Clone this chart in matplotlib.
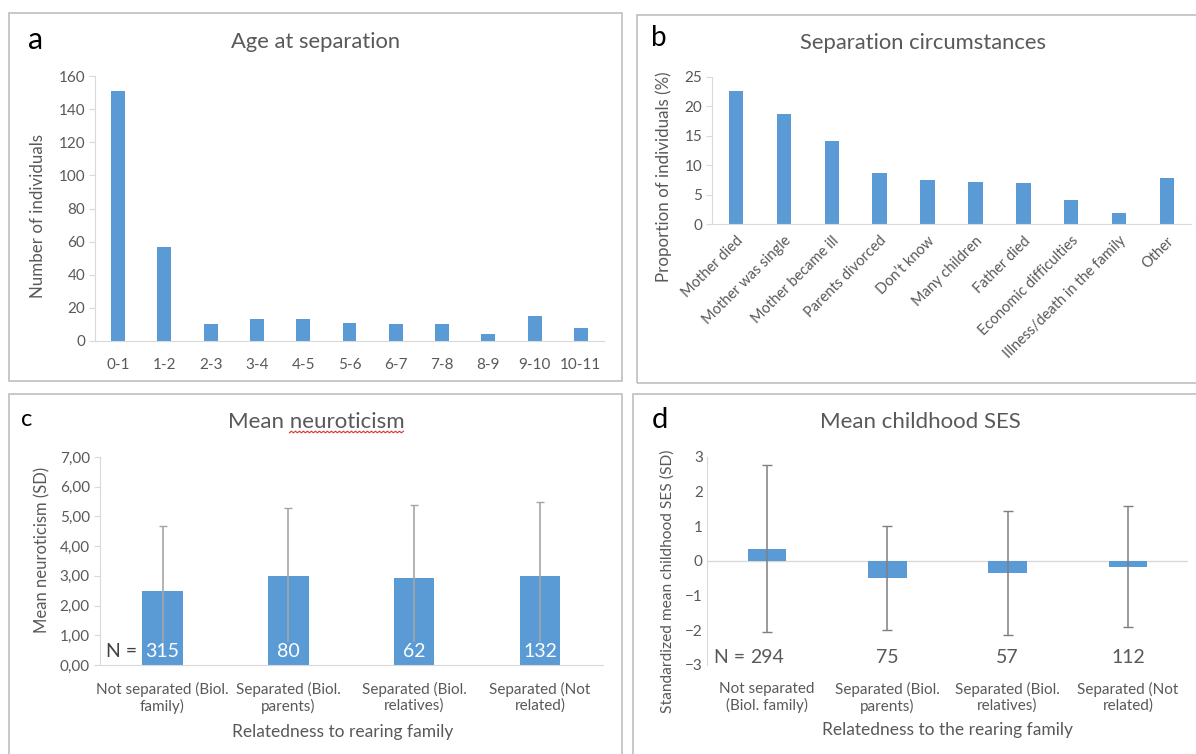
import matplotlib

matplotlib.use("Agg")
import matplotlib.pyplot as plt
import numpy as np
from matplotlib.lines import Line2D
from matplotlib.patches import Rectangle

plt.rcParams["font.family"] = ["Lato", "DejaVu Sans"]

# ---------------------------------------------------------------------------
# data
age_groups = ["0-1", "1-2", "2-3", "3-4", "4-5", "5-6", "6-7", "7-8", "8-9", "9-10", "10-11"]
age_counts = [151, 57, 10, 13, 13, 11, 10, 10, 4.5, 15, 8]

circumstances = ["Mother died", "Mother was single", "Mother became ill", "Parents divorced",
                 "Don\u2019t know", "Many children", "Father died", "Economic difficulties",
                 "Illness/death in the family", "Other"]
circ_pct = [22.7, 18.7, 14.1, 8.7, 7.5, 7.2, 6.9, 4.0, 1.9, 7.8]

groups_c = ["Not separated (Biol.\nfamily)", "Separated (Biol.\nparents)",
            "Separated (Biol.\nrelatives)", "Separated (Not\nrelated)"]
neuro_mean = [2.48, 2.99, 2.92, 3.0]
neuro_sd = [2.2, 2.3, 2.46, 2.47]
neuro_n = [315, 80, 62, 132]

groups_d = ["Not separated\n(Biol. family)", "Separated (Biol.\nparents)",
            "Separated (Biol.\nrelatives)", "Separated (Not\nrelated)"]
ses_mean = [0.35, -0.49, -0.34, -0.17]
ses_sd = [2.4, 1.5, 1.79, 1.74]
ses_n = [294, 75, 57, 112]

# ---------------------------------------------------------------------------
BLUE = "#5B9BD5"
TXT = "#595959"
AXC = "#D9D9D9"
W, H = 1196, 754

fig = plt.figure(figsize=(W / 100, H / 100), dpi=100)


def ax_px(x0, y0, x1, y1):
    return fig.add_axes([x0 / W, 1 - y1 / H, (x1 - x0) / W, (y1 - y0) / H])


def frame(x0, y0, x1, y1):
    fig.patches.append(Rectangle((x0 / W, 1 - y1 / H), (x1 - x0) / W, (y1 - y0) / H,
                                 transform=fig.transFigure, fill=False,
                                 edgecolor="#BFBFBF", lw=1.2))


def ftext(x, y, s, **kw):
    return fig.text(x / W, 1 - y / H, s, **kw)


def style(ax):
    for s in ["top", "right"]:
        ax.spines[s].set_visible(False)
    ax.spines["left"].set_color(AXC)
    ax.spines["bottom"].set_color(AXC)
    ax.tick_params(axis="y", colors=AXC, labelcolor=TXT, length=4, labelsize=11, pad=3)
    ax.tick_params(axis="x", length=0, labelcolor=TXT, labelsize=11)
    ax.set_facecolor("none")


frame(9, 13, 622, 381)
frame(637, 15, 1210, 383)
frame(9, 394, 622, 770)
frame(633, 394, 1210, 770)

# ---- a ------------------------------------------------------------------
ax = ax_px(95, 76, 604, 341)
x = range(len(age_groups))
ax.bar(x, age_counts, width=0.3, color=BLUE)
ax.set_xlim(-0.5, len(age_groups) - 0.5)
ax.set_ylim(0, 160)
ax.set_yticks(range(0, 161, 20))
ax.set_xticks(list(x))
ax.set_xticklabels(age_groups)
style(ax)
ax.tick_params(axis="x", pad=12)
ax.set_ylabel("Number of individuals", color=TXT, fontsize=12.2)
ax.yaxis.set_label_coords(-0.096, (341 - 216) / 265)
ftext(316, 42, "Age at separation", color=TXT, fontsize=15.8, ha="center", va="center")
ftext(36, 40, "a", color="black", fontsize=22, ha="center", va="center")

# ---- b ------------------------------------------------------------------
ax = ax_px(712, 77, 1191, 224)
x = range(len(circumstances))
ax.bar(x, circ_pct, width=0.3, color=BLUE)
ax.set_xlim(-0.5, len(circumstances) - 0.5)
ax.set_ylim(0, 25)
ax.set_yticks(range(0, 26, 5))
ax.set_xticks(list(x))
ax.set_xticklabels(circumstances, rotation=45, ha="right", rotation_mode="anchor")
style(ax)
ax.tick_params(axis="x", pad=7, labelsize=10.5)
ax.set_ylabel("Proportion of individuals (%)", color=TXT, fontsize=12.2)
ax.yaxis.set_label_coords(-0.083, (224 - 177) / 147)
ftext(923, 43, "Separation circumstances", color=TXT, fontsize=15.8, ha="center", va="center")
ftext(659, 38, "b", color="black", fontsize=20, ha="center", va="center")

# ---- c ------------------------------------------------------------------
ax = ax_px(99.6, 457, 603, 665)
x = list(range(len(groups_c)))
ax.bar(x, neuro_mean, width=0.32, color=BLUE, zorder=2)
ax.errorbar(x, neuro_mean, yerr=neuro_sd, fmt="none", ecolor="#A5A5A5",
            elinewidth=1.2, capsize=3, zorder=3)
ax.set_xlim(-0.5, len(groups_c) - 0.5)
ax.set_ylim(0, 7)
ax.set_yticks(range(0, 8))
ax.set_yticklabels([f"{v},00" for v in range(0, 8)])
ax.set_xticks(x)
ax.set_xticklabels(groups_c, linespacing=1.15)
style(ax)
ax.tick_params(axis="x", pad=12)
for xi, n in zip(x, neuro_n):
    ax.text(xi, 0.45, str(n), color="white", fontsize=14, ha="center", va="center",
            zorder=4, bbox=dict(facecolor=BLUE, edgecolor="none", pad=0.5))
ax.text(-0.326, 0.45, "N =", color="#404040", fontsize=14, ha="center", va="center")
ax.set_ylabel("Mean neuroticism (SD)", color=TXT, fontsize=12)
ax.yaxis.set_label_coords(-0.098, (665 - 550) / 208)
ax.set_xlabel("Relatedness to rearing family", color=TXT, fontsize=12.5)
ax.xaxis.set_label_coords((342.5 - 99.6) / 503.4, -(724 - 665) / 208)
title_c = ftext(316, 422, "Mean neuroticism", color=TXT, fontsize=16, ha="center", va="center")
ftext(27, 420, "c", color="black", fontsize=17, ha="center", va="center")

# ---- d ------------------------------------------------------------------
ax = ax_px(707, 456.7, 1188, 665)
x = list(range(len(groups_d)))
ax.bar(x, ses_mean, width=0.32, color=BLUE, zorder=2)
ax.errorbar(x, ses_mean, yerr=ses_sd, fmt="none", ecolor="#7F7F7F",
            elinewidth=1.1, capsize=3.5, zorder=3)
ax.axhline(0, color=AXC, lw=1, zorder=1)
ax.set_xlim(-0.5, len(groups_d) - 0.5)
ax.set_ylim(-3, 3)
ax.set_yticks(range(-3, 4))
ax.set_xticks(x)
ax.set_xticklabels(groups_d, linespacing=1.15)
style(ax)
ax.spines["bottom"].set_visible(False)
ax.tick_params(axis="x", pad=12)
ax.tick_params(axis="y", length=0)
for xi, n in zip(x, ses_n):
    ax.text(xi, -2.78, str(n), color=TXT, fontsize=14, ha="center", va="center")
ax.text(-0.315, -2.78, "N =", color=TXT, fontsize=14, ha="center", va="center")
ax.set_ylabel("Standardized mean childhood SES (SD)", color=TXT, fontsize=11.2)
ax.yaxis.set_label_coords(-0.067, (665 - 581) / 208.3)
ax.set_xlabel("Relatedness to the rearing family", color=TXT, fontsize=12.5)
ax.xaxis.set_label_coords((947.8 - 707) / 481, -(722 - 665) / 208.3)
ftext(920, 422, "Mean childhood SES", color=TXT, fontsize=16, ha="center", va="center")
ftext(660, 420, "d", color="black", fontsize=21, ha="center", va="center")

# spell-check squiggle under "neuroticism", as in the source screenshot
fig.canvas.draw()
r = fig.canvas.get_renderer()
bb = title_c.get_window_extent(r)
probe = fig.text(0, 0, "neuroticism", fontsize=16)
wn = probe.get_window_extent(r).width
probe.remove()
xs = np.arange(bb.x1 - wn, bb.x1, 2.0)
ys = (H - 432) + np.where(np.arange(len(xs)) % 2 == 0, -0.8, 0.8)
fig.add_artist(Line2D(xs / W, ys / H, transform=fig.transFigure, color="#E0302E", lw=0.8))

fig.savefig("out.png", dpi=100)
